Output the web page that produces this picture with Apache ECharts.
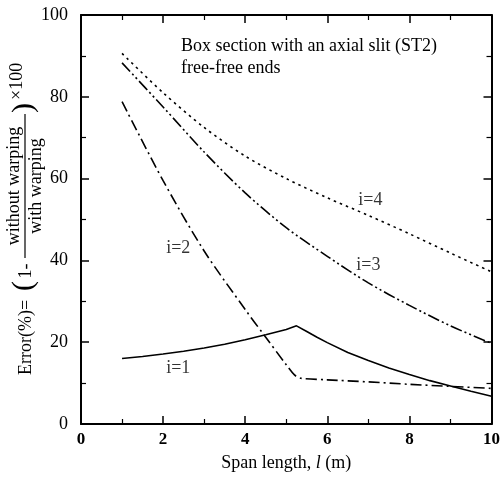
<!DOCTYPE html>
<html>
<head>
<meta charset="utf-8">
<script src="https://cdn.jsdelivr.net/npm/echarts@6/dist/echarts.min.js"></script>
<style>
  html, body { margin: 0; padding: 0; background: #fff; }
  #chart { width: 503px; height: 477px; }
</style>
</head>
<body>
<div id="chart"></div>
<script>
// values
const spanI1 = [1, 1.5, 2, 2.5, 3, 3.5, 4, 4.5, 5, 5.25, 5.5, 5.75, 6, 6.5, 7, 7.5, 8, 8.5, 9, 9.5, 10]
const errI1 = [16.0, 16.5, 17.1, 17.8, 18.6, 19.5, 20.6, 21.8, 23.1, 24.0, 22.6, 21.2, 19.9, 17.5, 15.5, 13.7, 12.1, 10.6, 9.3, 8.0, 6.8]

const spanI2 = [1, 2, 3, 4, 4.5, 5, 5.2, 5.35, 6, 7, 8, 9, 10]
const errI2 = [78.8, 59.5, 42.3, 28.0, 21.2, 14.5, 12.0, 11.2, 10.8, 10.3, 9.7, 9.2, 8.7]

const spanI3 = [1, 2, 3, 4, 5, 6, 7, 8, 9, 10]
const errI3 = [88.3, 77.5, 66.5, 56.5, 48.0, 41.0, 34.5, 29.0, 24.0, 19.7]

const spanI4 = [1, 2, 3, 4, 5, 6, 7, 8, 9, 10]
const errI4 = [90.6, 81.0, 72.5, 65.5, 60.0, 55.3, 51.0, 46.5, 41.8, 37.2]

const labelText = ['i=1', 'i=2', 'i=3', 'i=4']
const labelX = [2.37, 2.37, 7.0, 7.05]
const labelY = [13.7, 43.0, 38.9, 54.8]

const xTicks = [0, 2, 4, 6, 8, 10]
const yTicks = [0, 20, 40, 60, 80, 100]

const serif = 'Liberation Serif'

const pairs = (xs, ys) => xs.map((x, i) => [x, ys[i]])

const myChart = echarts.init(document.getElementById('chart'))

const axisCommon = {
    type: 'value',
    axisLine: { show: true, onZero: false, lineStyle: { color: '#000', width: 2 } },
    axisTick: { show: true, inside: true, length: 8, lineStyle: { color: '#000', width: 1.5 } },
    minorTick: { show: true, splitNumber: 2, length: 5, lineStyle: { color: '#000', width: 1.2 } },
    splitLine: { show: false }
}

const option = {
    animation: false,
    grid: { left: 81, right: 11, top: 15, bottom: 53 },
    xAxis: [
        Object.assign({}, axisCommon, {
            position: 'bottom', min: 0, max: 10, interval: 2,
            axisLabel: {
                color: '#000', fontFamily: serif, fontSize: 17, fontWeight: 'bold', margin: 7,
                formatter: v => xTicks.includes(v) ? String(v) : ''
            },
            name: '{a|Span length, }{b|l}{a| (m)}',
            nameLocation: 'middle', nameGap: 30,
            nameTextStyle: {
                rich: {
                    a: { fontFamily: serif, fontSize: 18, color: '#000' },
                    b: { fontFamily: serif, fontSize: 18, color: '#000', fontStyle: 'italic' }
                }
            }
        }),
        Object.assign({}, axisCommon, {
            position: 'top', min: 0, max: 10, interval: 2,
            axisLabel: { show: false }
        })
    ],
    yAxis: [
        Object.assign({}, axisCommon, {
            position: 'left', min: 0, max: 100, interval: 20,
            axisLabel: {
                color: '#000', fontFamily: serif, fontSize: 18, margin: 13,
                formatter: v => yTicks.includes(v) ? String(v) : ''
            }
        }),
        Object.assign({}, axisCommon, {
            position: 'right', min: 0, max: 100, interval: 20,
            axisLabel: { show: false }
        })
    ],
    series: [
        {
            name: 'i=1', type: 'line', symbol: 'none', smooth: false,
            lineStyle: { color: '#000', width: 1.6, type: 'solid' },
            data: pairs(spanI1, errI1)
        },
        {
            name: 'i=2', type: 'line', symbol: 'none', smooth: 0.3,
            lineStyle: { color: '#000', width: 1.6, type: [11, 4, 2, 4] },
            data: pairs(spanI2, errI2)
        },
        {
            name: 'i=3', type: 'line', symbol: 'none', smooth: 0.3,
            lineStyle: { color: '#000', width: 1.6, type: [12, 3, 2, 3, 2, 3] },
            data: pairs(spanI3, errI3)
        },
        {
            name: 'i=4', type: 'line', symbol: 'none', smooth: 0.3,
            lineStyle: { color: '#000', width: 1.6, type: [2.5, 4] },
            data: pairs(spanI4, errI4)
        },
        {
            type: 'scatter', symbolSize: 0, silent: true,
            data: labelX.map((x, i) => ({ value: [x, labelY[i]], name: labelText[i] })),
            label: {
                show: true, position: 'inside', formatter: p => p.name,
                color: '#000', fontFamily: serif, fontSize: 18
            }
        }
    ],
    graphic: [
        {
            type: 'text', left: 181, top: 35,
            style: {
                text: 'Box section with an axial slit (ST2)\nfree-free ends',
                fill: '#000', font: '18px "Liberation Serif"', lineHeight: 22
            }
        },
        {
            type: 'group', x: 25, y: 220, rotation: Math.PI / 2,
            children: [
                { type: 'text', x: -155, y: 1, style: { text: 'Error(%)=', fill: '#000', font: '18px "Liberation Serif"', align: 'left', verticalAlign: 'middle' } },
                { type: 'text', x: -66, y: -1, style: { text: '(', fill: '#000', font: '30px "Liberation Serif"', align: 'center', verticalAlign: 'middle' } },
                { type: 'text', x: -51, y: 1, style: { text: '1-', fill: '#000', font: '18px "Liberation Serif"', align: 'center', verticalAlign: 'middle' } },
                { type: 'line', shape: { x1: -38, y1: 0, x2: 106, y2: 0 }, style: { stroke: '#000', lineWidth: 1.2 } },
                { type: 'text', x: 34, y: -11, style: { text: 'without warping', fill: '#000', font: '18px "Liberation Serif"', align: 'center', verticalAlign: 'middle' } },
                { type: 'text', x: 34, y: 11, style: { text: 'with warping', fill: '#000', font: '18px "Liberation Serif"', align: 'center', verticalAlign: 'middle' } },
                { type: 'text', x: 112, y: -1, style: { text: ')', fill: '#000', font: '30px "Liberation Serif"', align: 'center', verticalAlign: 'middle' } },
                { type: 'text', x: 120, y: -8, style: { text: '×100', fill: '#000', font: '18px "Liberation Serif"', align: 'left', verticalAlign: 'middle' } }
            ]
        }
    ]
}

myChart.setOption(option)
window.addEventListener('resize', function () {
    myChart.resize()
})
</script>
</body>
</html>
